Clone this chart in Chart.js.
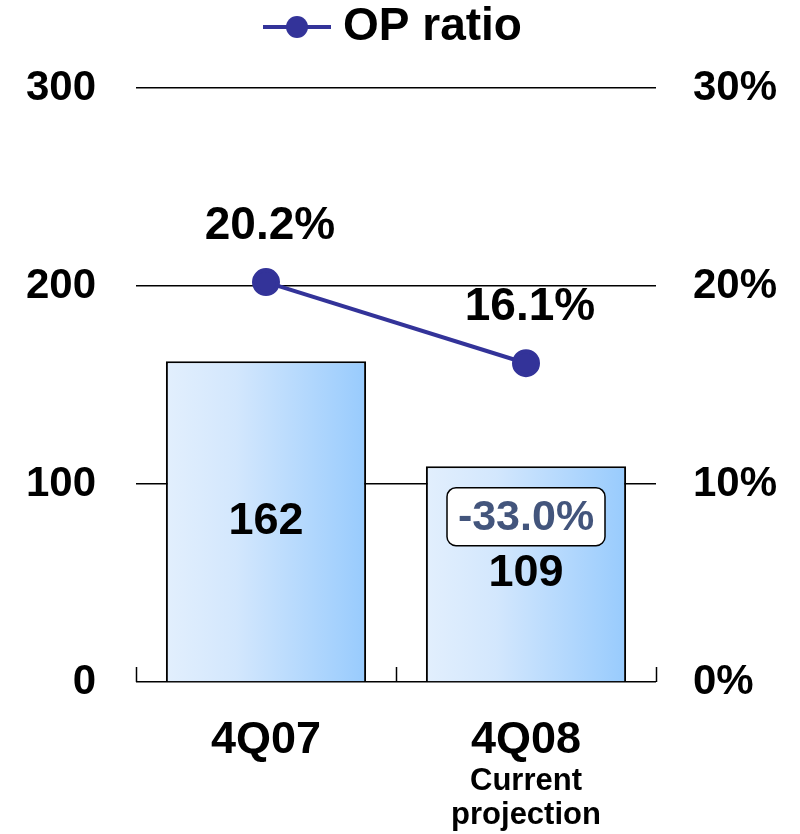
<!DOCTYPE html>
<html>
<head>
<meta charset="utf-8">
<script src="https://cdn.jsdelivr.net/npm/chart.js@4"></script>
<style>
  html, body { margin: 0; padding: 0; background: #fff; }
  #wrap { width: 800px; height: 834px; }
</style>
</head>
<body>
<div id="wrap"><canvas id="chart" width="800" height="834"></canvas></div>
<script>
const categories = ['4Q07', '4Q08'];
const subLabels = [[], ['Current', 'projection']];
const opValues = [162, 109];
const opRatio = [20.2, 16.1];
const changeLabels = [null, '-33.0%'];
const leftTicks = [0, 100, 200, 300];
const rightTicks = [0, 10, 20, 30];

const FONT = '"Liberation Sans", Arial, sans-serif';
const LINE_COLOR = '#333399';
const BAR_PCT = 0.77;

function barGradient(c) {
  const chart = c.chart;
  const xs = chart.scales.x;
  if (!xs || !chart.chartArea) return '#bcdcfd';
  const cx = xs.getPixelForValue(c.dataIndex);
  const w = (xs.width / categories.length) * BAR_PCT;
  const g = chart.ctx.createLinearGradient(cx - w / 2, 0, cx + w / 2, 0);
  g.addColorStop(0, '#e2effd');
  g.addColorStop(0.35, '#d3e7fd');
  g.addColorStop(1, '#98cbfd');
  return g;
}

// labels, sub labels, axis ticks and legend
const extras = {
  id: 'extras',
  afterDatasetsDraw(chart) {
    const ctx = chart.ctx;
    const area = chart.chartArea;
    const xs = chart.scales.x;
    ctx.save();

    // small ticks on the base line
    ctx.strokeStyle = '#000';
    ctx.lineWidth = 1.5;
    const step = xs.width / categories.length;
    for (let i = 0; i <= categories.length; i++) {
      const x = Math.round(xs.left + step * i) + 0.5;
      ctx.beginPath();
      ctx.moveTo(x, area.bottom);
      ctx.lineTo(x, area.bottom - 15);
      ctx.stroke();
    }

    ctx.textAlign = 'center';
    ctx.textBaseline = 'middle';

    // bar values
    const bars = chart.getDatasetMeta(0).data;
    bars.forEach((b, i) => {
      const mid = (b.y + b.base) / 2;
      ctx.fillStyle = '#000';
      ctx.font = 'bold 45px ' + FONT;
      ctx.fillText(String(opValues[i]), b.x, mid);

      if (changeLabels[i]) {
        const bw = 158, bh = 58, by = mid - 57;
        ctx.beginPath();
        ctx.roundRect(b.x - bw / 2, by - bh / 2, bw, bh, 9);
        ctx.fillStyle = '#fff';
        ctx.fill();
        ctx.lineWidth = 1.5;
        ctx.strokeStyle = '#000';
        ctx.stroke();
        ctx.fillStyle = '#43557c';
        ctx.font = 'bold 43px ' + FONT;
        ctx.fillText(changeLabels[i], b.x, by + 1);
      }
    });

    // line labels
    const pts = chart.getDatasetMeta(1).data;
    pts.forEach((p, i) => {
      ctx.fillStyle = '#000';
      ctx.font = 'bold 46px ' + FONT;
      ctx.fillText(opRatio[i].toFixed(1) + '%', p.x + 4, p.y - 56);
    });

    // sub labels under the categories
    ctx.font = 'bold 31px ' + FONT;
    ctx.textBaseline = 'alphabetic';
    subLabels.forEach((lines, i) => {
      const x = xs.getPixelForValue(i);
      lines.forEach((t, k) => {
        ctx.fillText(t, x, 790 + k * 34);
      });
    });

    // legend
    ctx.strokeStyle = LINE_COLOR;
    ctx.lineWidth = 4;
    ctx.beginPath();
    ctx.moveTo(263, 27);
    ctx.lineTo(331, 27);
    ctx.stroke();
    ctx.fillStyle = LINE_COLOR;
    ctx.beginPath();
    ctx.arc(297, 27, 11, 0, Math.PI * 2);
    ctx.fill();
    ctx.fillStyle = '#000';
    ctx.font = 'bold 46px ' + FONT;
    ctx.textAlign = 'left';
    ctx.textBaseline = 'middle';
    ctx.fillText(chart.data.datasets[1].label, 343, 27);

    ctx.restore();
  }
};

new Chart(document.getElementById('chart'), {
  data: {
    labels: categories,
    datasets: [
      {
        type: 'bar',
        label: 'OP',
        data: opValues,
        yAxisID: 'y',
        backgroundColor: barGradient,
        borderColor: '#000',
        borderWidth: 2,
        barPercentage: BAR_PCT,
        categoryPercentage: 1,
        order: 1
      },
      {
        type: 'line',
        label: 'OP ratio',
        data: opRatio,
        yAxisID: 'y1',
        borderColor: LINE_COLOR,
        backgroundColor: LINE_COLOR,
        borderWidth: 4,
        pointRadius: 12,
        pointHoverRadius: 12,
        order: 0
      }
    ]
  },
  options: {
    responsive: false,
    animation: false,
    events: [],
    layout: { padding: { top: 88, bottom: 0, left: 0, right: 0 } },
    plugins: {
      legend: { display: false },
      tooltip: { enabled: false }
    },
    scales: {
      x: {
        offset: true,
        grid: { display: false, drawTicks: false },
        border: { display: false },
        ticks: {
          color: '#000',
          padding: 36,
          font: { family: FONT, size: 45, weight: 'bold', lineHeight: 1 }
        },
        afterFit: s => { s.height = 152; }
      },
      y: {
        position: 'left',
        min: 0,
        max: 300,
        afterBuildTicks: s => { s.ticks = leftTicks.map(v => ({ value: v })); },
        grid: { color: '#000', lineWidth: 1.5, drawTicks: false },
        border: { display: false },
        ticks: {
          color: '#000',
          padding: 40,
          font: { family: FONT, size: 42, weight: 'bold' }
        },
        afterFit: s => { s.width = 136; }
      },
      y1: {
        position: 'right',
        min: 0,
        max: 30,
        afterBuildTicks: s => { s.ticks = rightTicks.map(v => ({ value: v })); },
        grid: { display: false, drawTicks: false },
        border: { display: false },
        ticks: {
          color: '#000',
          padding: 37,
          font: { family: FONT, size: 42, weight: 'bold' },
          callback: v => v + '%'
        },
        afterFit: s => { s.width = 144; }
      }
    }
  },
  plugins: [extras]
});
</script>
</body>
</html>
